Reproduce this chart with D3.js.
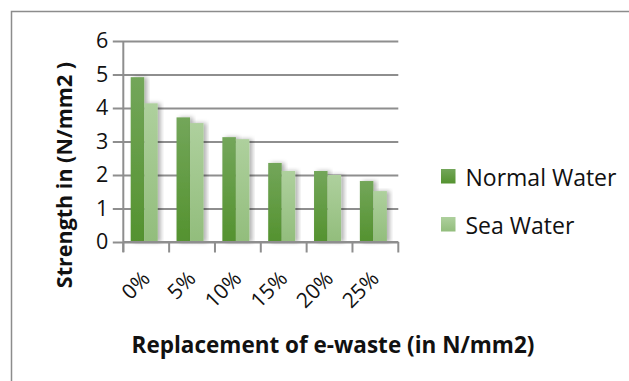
<!DOCTYPE html>
<html>
<head>
<meta charset="utf-8">
<script src="https://cdn.jsdelivr.net/npm/d3@7"></script>
<style>
  html, body { margin: 0; padding: 0; background: #fff; }
  svg { display: block; font-family: "Open Sans", "DejaVu Sans", sans-serif; }
</style>
</head>
<body>
<svg id="chart" width="629" height="381"></svg>
<script>
// Compressive strength by e-waste replacement level
const categories = ["0%", "5%", "10%", "15%", "20%", "25%"];
const seriesNames = ["Normal Water", "Sea Water"];
const normalWater = [4.92, 3.72, 3.13, 2.36, 2.12, 1.82];
const seaWater = [4.14, 3.55, 3.07, 2.12, 2.0, 1.52];
const yTicks = [0, 1, 2, 3, 4, 5, 6];

const svg = d3.select("#chart");
const plot = { left: 123.3, right: 398.3, top: 41, bottom: 242 };

// outer chart frame
svg.append("rect")
  .attr("x", 11.5).attr("y", 11.5)
  .attr("width", 800).attr("height", 600)
  .attr("fill", "none").attr("stroke", "#8c8c8c").attr("stroke-width", 1.5);

const defs = svg.append("defs");
function grad(id, top, bottom) {
  const g = defs.append("linearGradient").attr("id", id)
    .attr("x1", 0).attr("y1", 0).attr("x2", 0).attr("y2", 1);
  g.append("stop").attr("offset", "0%").attr("stop-color", top);
  g.append("stop").attr("offset", "100%").attr("stop-color", bottom);
}
grad("gNormal", "#73a65a", "#54922f");
grad("gSea", "#aed09d", "#92bd7c");
const shadow = defs.append("filter").attr("id", "barShadow")
  .attr("x", "-20%").attr("y", "-5%").attr("width", "160%").attr("height", "110%");
shadow.append("feDropShadow").attr("dx", 3).attr("dy", 0)
  .attr("stdDeviation", 2).attr("flood-color", "#000").attr("flood-opacity", 0.3);

const fills = ["url(#gNormal)", "url(#gSea)"];

const x = d3.scaleBand().domain(categories).range([plot.left, plot.right]).padding(0);
const inner = d3.scaleBand().domain(seriesNames)
  .range([7.4, x.bandwidth() - 11.4]).padding(0);
const y = d3.scaleLinear().domain([0, 6]).range([plot.bottom, plot.top]);

// horizontal gridlines with outward ticks
const yAxis = d3.axisLeft(y).tickValues(yTicks).tickFormat(d3.format("d"))
  .tickSize(-(plot.right - plot.left)).tickPadding(15);
const gy = svg.append("g").attr("transform", `translate(${plot.left},0)`).call(yAxis);
gy.select(".domain").remove();
gy.selectAll(".tick line")
  .attr("x1", -10.5)
  .attr("stroke", "#8e8e8e").attr("stroke-width", 2);
gy.selectAll(".tick text")
  .attr("font-size", 21.5).attr("fill", "#111")
  .attr("font-family", "Open Sans, sans-serif");

// bars
const rows = categories.map((c, i) => ({ c, vals: [normalWater[i], seaWater[i]] }));
const groups = svg.append("g").selectAll("g").data(rows).join("g")
  .attr("transform", d => `translate(${x(d.c)},0)`);
groups.selectAll("rect")
  .data(d => d.vals.map((v, k) => ({ v, k })))
  .join("rect")
  .attr("x", d => inner(seriesNames[d.k]))
  .attr("width", inner.bandwidth())
  .attr("y", d => y(d.v))
  .attr("height", d => y(0) - y(d.v))
  .attr("fill", d => fills[d.k])
  .attr("filter", "url(#barShadow)");

// vertical axis line
svg.append("line")
  .attr("x1", plot.left).attr("x2", plot.left)
  .attr("y1", plot.top).attr("y2", plot.bottom + 10)
  .attr("stroke", "#8e8e8e").attr("stroke-width", 2);

// category axis
const xAxis = d3.axisBottom(x).tickSize(0).tickFormat("");
const gx = svg.append("g").attr("transform", `translate(0,${plot.bottom})`).call(xAxis);
gx.select(".domain").attr("stroke", "#8e8e8e").attr("stroke-width", 2)
  .attr("d", `M${plot.left},0H${plot.right}`);
const boundaries = categories.map(c => x(c)).concat([plot.right]);
gx.selectAll(".bound").data(boundaries).join("line")
  .attr("class", "bound")
  .attr("x1", d => d).attr("x2", d => d)
  .attr("y1", 0).attr("y2", 10.5)
  .attr("stroke", "#8e8e8e").attr("stroke-width", 2);
svg.append("g").selectAll("text").data(categories).join("text")
  .attr("transform", c => `translate(${x(c) + x.bandwidth() / 2 + 5},280) rotate(-45)`)
  .attr("text-anchor", "end")
  .attr("font-size", 21).attr("fill", "#111")
  .text(c => c);

// axis titles
svg.append("text")
  .attr("x", 333).attr("y", 353)
  .attr("text-anchor", "middle")
  .attr("font-size", 22.5).attr("font-weight", "bold").attr("fill", "#111")
  .text("Replacement of e-waste (in N/mm2)");
svg.append("text")
  .attr("transform", "translate(72,175) rotate(-90)")
  .attr("text-anchor", "middle")
  .attr("font-size", 21.5).attr("font-weight", "bold").attr("fill", "#111")
  .text("Strength in (N/mm2 )");

// legend
const legend = svg.append("g").selectAll("g").data(seriesNames).join("g")
  .attr("transform", (d, i) => `translate(441,${169 + i * 48})`);
legend.append("rect")
  .attr("width", 14.5).attr("height", 14.5)
  .attr("fill", (d, i) => fills[i]);
legend.append("text")
  .attr("x", 24.5).attr("y", 16.5)
  .attr("font-size", 23).attr("fill", "#111")
  .text(d => d);
</script>
</body>
</html>
